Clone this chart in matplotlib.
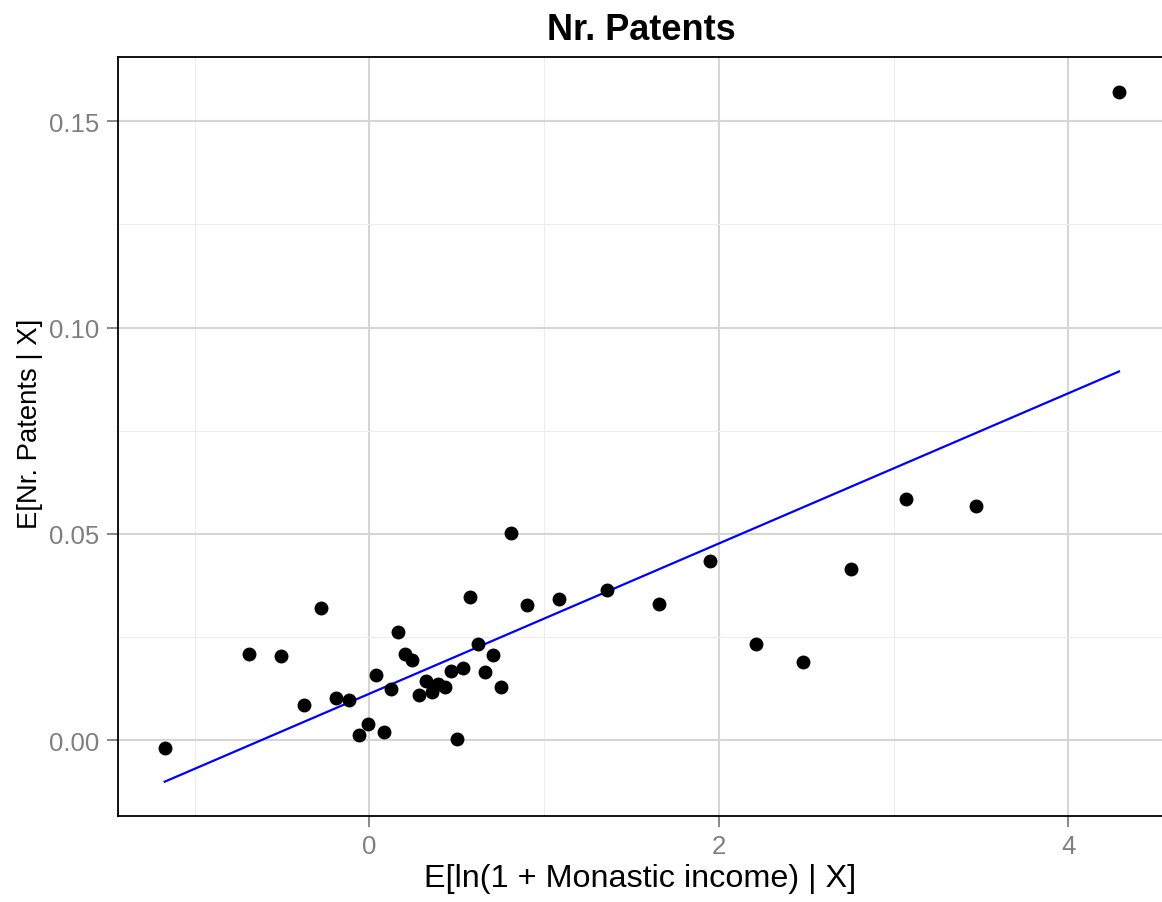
import numpy as np
import matplotlib.pyplot as plt

plt.rcParams['font.family'] = ['Liberation Sans', 'DejaVu Sans']

# binned conditional means
monastic_income = [-1.172, -0.690, -0.508, -0.278, -0.377, -0.193, -0.117, -0.060,
                   -0.009, 0.085, 0.039, 0.125, 0.163, 0.201, 0.243, 0.285,
                   0.323, 0.356, 0.394, 0.430, 0.465, 0.537, 0.503, 0.577,
                   0.619, 0.661, 0.707, 0.754, 0.810, 0.902, 1.085, 1.359,
                   1.657, 1.949, 2.213, 2.482, 2.757, 3.072, 3.473, 4.290]
nr_patents = [-0.0019, 0.0208, 0.0204, 0.0320, 0.0085, 0.0102, 0.0098, 0.0012,
              0.0039, 0.0019, 0.0158, 0.0124, 0.0262, 0.0208, 0.0194, 0.0110,
              0.0144, 0.0116, 0.0137, 0.0128, 0.0167, 0.0174, 0.0002, 0.0347,
              0.0233, 0.0165, 0.0206, 0.0128, 0.0502, 0.0327, 0.0342, 0.0364,
              0.0330, 0.0434, 0.0233, 0.0190, 0.0415, 0.0585, 0.0568, 0.1572]

# fitted line
intercept = 0.0113
slope = 0.0182

x_ticks = [0, 2, 4]
x_minor = [-1, 1, 3]
y_ticks = [0.00, 0.05, 0.10, 0.15]
y_minor = [0.025, 0.075, 0.125]
y_tick_labels = ["0.00", "0.05", "0.10", "0.15"]

fig = plt.figure(figsize=(11.62, 9.03), dpi=100)
ax = fig.add_axes([0.1013, 0.0949, 0.8987, 0.8405])

ax.set_xlim(-1.441, 4.536)
ax.set_ylim(-0.01842, 0.16551)

ax.set_xticks(x_ticks)
ax.set_xticklabels([str(t) for t in x_ticks])
ax.set_xticks(x_minor, minor=True)
ax.set_yticks(y_ticks)
ax.set_yticklabels(y_tick_labels)
ax.set_yticks(y_minor, minor=True)

ax.grid(True, which="major", color="#d6d6d6", linewidth=1.5)
ax.grid(True, which="minor", color="#ededed", linewidth=0.8)
ax.set_axisbelow(True)

ax.tick_params(which="major", length=8, width=1.3, color="#7f7f7f",
               labelcolor="#7f7f7f", labelsize=18.5, pad=5)
ax.tick_params(which="minor", length=0)

for side in ["left", "bottom", "top"]:
    ax.spines[side].set_color("black")
    ax.spines[side].set_linewidth(1.3)
ax.spines["right"].set_visible(False)

xs = np.array([min(monastic_income), max(monastic_income)])
ax.plot(xs, intercept + slope * xs, color="blue", linewidth=1.6, zorder=2)
ax.plot(monastic_income, nr_patents, "o", color="black", markersize=9, zorder=3)

ax.set_xlabel("E[ln(1 + Monastic income) | X]", fontsize=23.3, labelpad=3)
ax.set_ylabel("E[Nr. Patents | X]", fontsize=19.8)
ax.yaxis.set_label_coords(-0.0715, 0.518)
fig.text(0.552, 0.966, "Nr. Patents", fontsize=26, fontweight="bold",
         ha="center", va="center")

fig.savefig("out.png", dpi=100)
